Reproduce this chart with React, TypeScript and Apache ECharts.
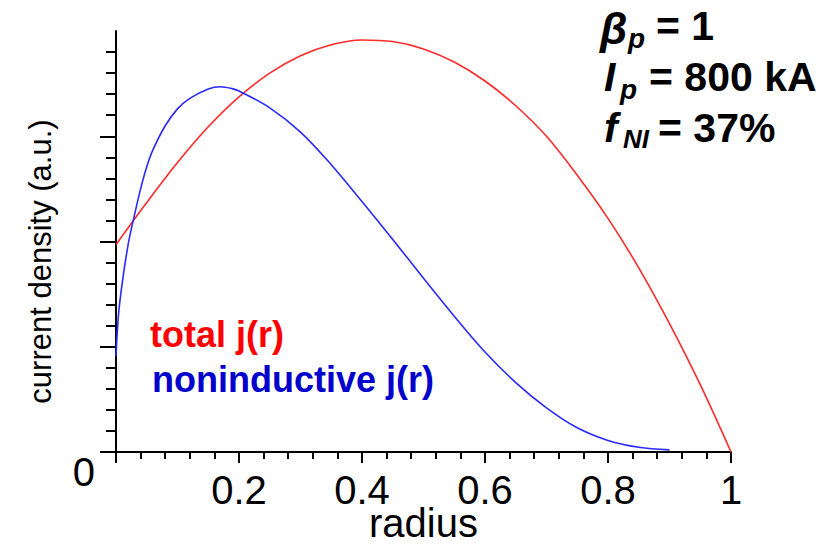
import React, { useEffect, useRef } from "react";
import * as echarts from "echarts";

// radius (normalized) and current density (a.u.)
const radiusTotal = [0, 0.05, 0.1, 0.15, 0.2, 0.25, 0.3, 0.35, 0.4, 0.45, 0.5, 0.55, 0.6, 0.65, 0.7, 0.75, 0.8, 0.85, 0.9, 0.95, 1.0];
const jTotal = [1.97, 2.37, 2.75, 3.09, 3.375, 3.6, 3.765, 3.87, 3.915, 3.9, 3.83, 3.705, 3.525, 3.29, 3.0, 2.63, 2.22, 1.75, 1.22, 0.64, 0];

const radiusNI = [0, 0.004, 0.01, 0.02, 0.03, 0.04, 0.05, 0.06, 0.08, 0.1, 0.12, 0.15, 0.17, 0.19, 0.2, 0.25, 0.3, 0.35, 0.4, 0.45, 0.5, 0.55, 0.6, 0.65, 0.7, 0.75, 0.8, 0.85, 0.9];
const jNI = [0.91, 1.3, 1.6, 1.98, 2.25, 2.5, 2.71, 2.87, 3.1, 3.26, 3.36, 3.45, 3.47, 3.45, 3.43, 3.27, 3.04, 2.73, 2.38, 2.02, 1.65, 1.29, 0.95, 0.66, 0.42, 0.23, 0.11, 0.045, 0.02];

const xTickValues = [0.2, 0.4, 0.6, 0.8, 1];
const xTickLabels = ["0.2", "0.4", "0.6", "0.8", "1"];
const yTickValues = [0];
const yTickLabels = ["0"];

const seriesNames = ["total j(r)", "noninductive j(r)"];
const xName = "radius";
const yName = "current density (a.u.)";

const FONT = "Liberation Sans, Arial, sans-serif";

function labelFor(values: number[], labels: string[], v: number) {
  for (let i = 0; i < values.length; i++) {
    if (Math.abs(values[i] - v) < 1e-9) return labels[i];
  }
  return "";
}

export default function App() {
  const ref = useRef<HTMLDivElement>(null);
  useEffect(() => {
    const chart = echarts.init(ref.current!, null, { renderer: "svg" });
    const axisColor = "#000";
    const big = { fontSize: 41, fontWeight: "bold", fontFamily: FONT, fill: "#000" };
    const bigIt = { ...big, fontStyle: "italic" };
    const sub = { fontSize: 28, fontWeight: "bold", fontStyle: "italic", fontFamily: FONT, fill: "#000" };
    chart.setOption({
      animation: false,
      backgroundColor: "#fff",
      grid: { left: 116, right: 99, top: 31, bottom: 92, containLabel: false, outerBoundsMode: "none" },
      xAxis: {
        type: "value",
        min: 0,
        max: 1,
        interval: 0.2,
        name: xName,
        nameLocation: "middle",
        nameGap: 51,
        nameMoveOverlap: false,
        nameTextStyle: { fontSize: 40, fontFamily: FONT, color: "#000" },
        axisLine: { show: true, lineStyle: { color: axisColor, width: 2 } },
        axisTick: { show: true, length: 11, lineStyle: { color: axisColor, width: 2 } },
        minorTick: { show: true, splitNumber: 5, length: 7, lineStyle: { color: axisColor, width: 2 } },
        splitLine: { show: false },
        minorSplitLine: { show: false },
        axisLabel: {
          fontSize: 40,
          fontFamily: FONT,
          color: "#000",
          margin: 18,
          formatter: (v: number) => labelFor(xTickValues, xTickLabels, v),
        },
      },
      yAxis: {
        type: "value",
        min: 0,
        max: 4,
        interval: 1,
        name: yName,
        nameLocation: "middle",
        nameGap: 60,
        nameMoveOverlap: false,
        nameTextStyle: { fontSize: 31, fontFamily: FONT, color: "#000", padding: [0, 40, 0, 0] },
        axisLine: { show: true, lineStyle: { color: axisColor, width: 2 } },
        axisTick: { show: true, length: 16, customValues: [0, 1, 2, 3], lineStyle: { color: axisColor, width: 2 } },
        minorTick: { show: true, splitNumber: 5, length: 10, lineStyle: { color: axisColor, width: 2 } },
        splitLine: { show: false },
        minorSplitLine: { show: false },
        axisLabel: {
          fontSize: 40,
          fontFamily: FONT,
          color: "#000",
          margin: 21,
          verticalAlign: "top",
          formatter: (v: number) => labelFor(yTickValues, yTickLabels, v),
        },
      },
      series: [
        {
          name: seriesNames[0],
          type: "line",
          data: radiusTotal.map((r, i) => [r, jTotal[i]]),
          showSymbol: false,
          smooth: 0.35,
          lineStyle: { color: "#ff2a2a", width: 1.6 },
          itemStyle: { color: "#ff2a2a" },
          z: 3,
        },
        {
          name: seriesNames[1],
          type: "line",
          data: radiusNI.map((r, i) => [r, jNI[i]]),
          showSymbol: false,
          smooth: 0.35,
          lineStyle: { color: "#2a2aff", width: 1.6 },
          itemStyle: { color: "#2a2aff" },
          z: 4,
        },
      ],
      graphic: [
        {
          type: "text",
          left: 150,
          top: 316,
          style: { text: seriesNames[0], fontSize: 36, fontWeight: "bold", fontFamily: FONT, fill: "#ff0000" },
        },
        {
          type: "text",
          left: 152,
          top: 361,
          style: { text: seriesNames[1], fontSize: 36, fontWeight: "bold", fontFamily: FONT, fill: "#0000cc" },
        },
        // annotation block
        { type: "text", x: 600, y: 6, style: { text: "β", ...bigIt, fontSize: 44 } },
        { type: "text", x: 628, y: 24, style: { text: "p", ...sub } },
        { type: "text", x: 656, y: 5, style: { text: "= 1", ...big } },

        { type: "text", x: 604, y: 56, style: { text: "I", ...bigIt } },
        { type: "text", x: 620, y: 75, style: { text: "p", ...sub } },
        { type: "text", x: 649, y: 56, style: { text: "= 800 kA", ...big } },

        { type: "text", x: 604, y: 107, style: { text: "f", ...bigIt } },
        { type: "text", x: 623, y: 126, style: { text: "NI", ...sub, fontSize: 26 } },
        { type: "text", x: 658, y: 107, style: { text: "= 37%", ...big } },
      ],
    });
    return () => chart.dispose();
  }, []);
  return <div ref={ref} style={{ position: "fixed", left: 0, top: 0, width: 830, height: 544 }} />;
}
